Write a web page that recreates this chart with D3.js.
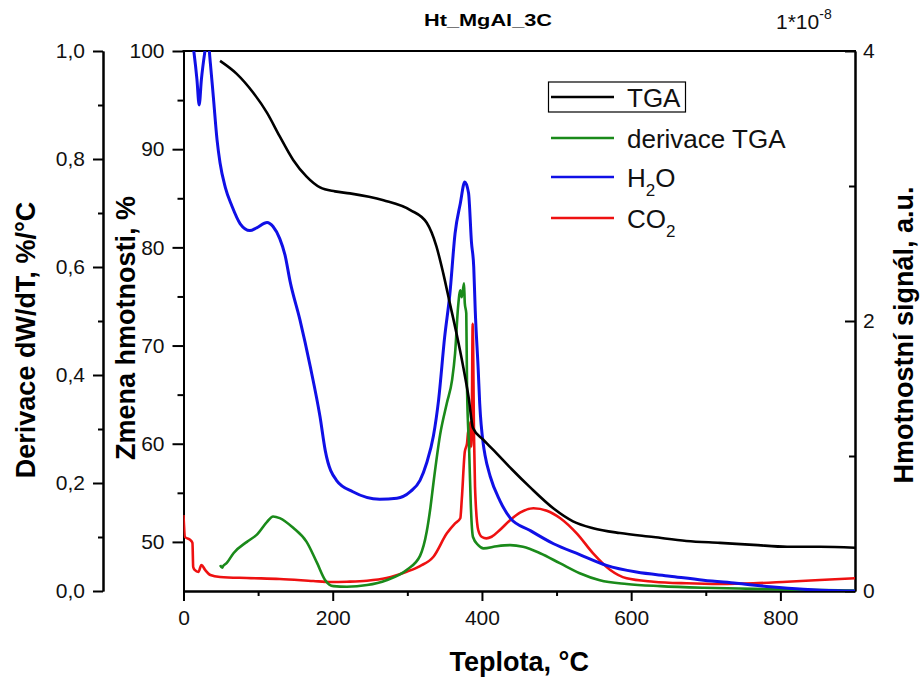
<!DOCTYPE html>
<html lang="en">
<head>
<meta charset="UTF-8">
<title>Ht_MgAl_3C</title>
<script src="https://d3js.org/d3.v7.min.js"></script>
<style>
  body { margin: 0; background: #fff; }
  svg text { font-family: "Liberation Sans", Arial, sans-serif; }
</style>
</head>
<body>
<script>
// TGA, % (left inner axis)
const tgaT = [49, 71, 94, 112, 129, 147, 165, 183, 203, 223, 268, 304, 326, 339, 348, 357, 366, 375, 382, 388, 402, 420, 440, 464, 496, 522, 549, 585, 630, 674, 719, 764, 809, 853, 900];
const tgaV = [99.0, 97.7, 95.7, 93.7, 91.3, 88.9, 87.2, 86.1, 85.7, 85.5, 84.8, 83.8, 82.5, 80.1, 77.4, 74.3, 71.2, 67.8, 64.8, 61.6, 60.4, 59.0, 57.4, 55.6, 53.4, 52.1, 51.4, 50.9, 50.5, 50.1, 49.9, 49.7, 49.5, 49.5, 49.4];

// derivace TGA, %/°C (left outer axis)
const derT = [49, 52, 53, 58, 67, 85, 98, 112, 120, 129, 147, 165, 179, 190, 201, 219, 246, 272, 299, 317, 326, 331, 335, 344, 353, 360, 364, 368, 371, 373, 376, 377, 379, 380, 383, 385, 388, 395, 402, 420, 438, 455, 478, 505, 531, 558, 594, 639, 697, 764, 831, 900];
const derV = [0.048, 0.043, 0.046, 0.052, 0.070, 0.091, 0.104, 0.128, 0.138, 0.135, 0.117, 0.091, 0.052, 0.020, 0.009, 0.008, 0.011, 0.020, 0.039, 0.065, 0.110, 0.155, 0.200, 0.290, 0.348, 0.391, 0.440, 0.526, 0.557, 0.544, 0.570, 0.533, 0.514, 0.378, 0.255, 0.162, 0.100, 0.085, 0.079, 0.083, 0.085, 0.082, 0.070, 0.051, 0.033, 0.020, 0.013, 0.009, 0.006, 0.004, 0.002, 0.001];

// H2O signal, 1e-8 (right axis)
const h2oT = [10, 18, 21, 24, 29, 32, 36, 40, 45, 49, 56, 65, 76, 89, 98, 112, 120, 129, 136, 143, 156, 170, 183, 190, 205, 227, 263, 286, 304, 317, 326, 335, 342, 350, 357, 364, 371, 377, 382, 386, 389, 391, 395, 397, 402, 404, 411, 424, 438, 464, 496, 531, 567, 607, 652, 697, 741, 786, 831, 876, 900];
const h2oV = [4.16, 3.79, 3.60, 3.79, 4.01, 4.12, 3.91, 3.66, 3.34, 3.17, 2.99, 2.85, 2.72, 2.67, 2.69, 2.73, 2.70, 2.61, 2.49, 2.29, 2.01, 1.66, 1.29, 1.04, 0.82, 0.735, 0.68, 0.687, 0.736, 0.82, 0.95, 1.15, 1.42, 1.88, 2.20, 2.65, 2.87, 3.03, 2.95, 2.58, 2.40, 2.08, 1.64, 1.39, 1.08, 1.01, 0.85, 0.67, 0.54, 0.45, 0.35, 0.27, 0.19, 0.14, 0.11, 0.08, 0.057, 0.032, 0.013, 0.002, 0];

// CO2 signal, 1e-8 (right axis)
const co2T = [0, 2, 9, 12, 13, 15, 20, 24, 29, 36, 49, 85, 129, 174, 196, 219, 246, 272, 299, 317, 335, 353, 364, 371, 373, 377, 380, 382, 383, 384.5, 385.5, 386.3, 387.6, 389.4, 390.7, 395, 400, 406, 413, 424, 438, 451, 469, 487, 505, 527, 549, 572, 594, 630, 674, 719, 764, 809, 853, 900];
const co2V = [0.563, 0.40, 0.378, 0.356, 0.178, 0.156, 0.141, 0.193, 0.156, 0.119, 0.104, 0.096, 0.089, 0.074, 0.067, 0.069, 0.076, 0.096, 0.143, 0.185, 0.254, 0.427, 0.501, 0.539, 0.68, 1.03, 1.094, 1.2, 1.05, 1.25, 1.07, 1.19, 1.98, 1.143, 0.773, 0.452, 0.40, 0.39, 0.402, 0.452, 0.526, 0.58, 0.613, 0.595, 0.539, 0.427, 0.279, 0.156, 0.094, 0.069, 0.057, 0.052, 0.057, 0.069, 0.081, 0.094];

const xTicks = [0, 200, 400, 600, 800];
const xMinor = [100, 300, 500, 700];
const tgaTicks = [50, 60, 70, 80, 90, 100];
const tgaMinor = [55, 65, 75, 85, 95];
const derTicks = [0, 0.2, 0.4, 0.6, 0.8, 1.0];
const derMinor = [0.1, 0.3, 0.5, 0.7, 0.9];
const sigTicks = [0, 2, 4];
const sigMinor = [1, 3];

const legendNames = ["TGA", "derivace TGA", "H2O", "CO2"];
const colors = { tga: "#000000", der: "#1a8a1a", h2o: "#1010e6", co2: "#ee1111" };

const width = 920, height = 677;
const svg = d3.select("body").append("svg")
  .attr("width", width)
  .attr("height", height);

const x = d3.scaleLinear().domain([0, 900]).range([183.5, 855]);
const yTga = d3.scaleLinear().domain([45, 100]).range([591, 51]);
const yDer = d3.scaleLinear().domain([0, 1]).range([591, 51]);
const ySig = d3.scaleLinear().domain([0, 4]).range([591, 51]);

const comma = d => d3.format(".1f")(d).replace(".", ",");

function styleAxis(g) {
  g.selectAll(".domain").attr("stroke", "#000").attr("stroke-width", 2);
  g.selectAll(".tick line").attr("stroke", "#000").attr("stroke-width", 2);
  g.selectAll("text")
    .attr("font-size", 21)
    .attr("fill", "#111")
    .attr("font-family", "'Liberation Sans', Arial, sans-serif");
}

// clip for the curves
svg.append("clipPath").attr("id", "plot")
  .append("rect")
  .attr("x", x(0)).attr("y", ySig(4))
  .attr("width", x(900) - x(0)).attr("height", ySig(0) - ySig(4));

// bottom axis
svg.append("g")
  .attr("transform", `translate(0, ${yTga(45)})`)
  .call(d3.axisBottom(x).tickValues(xTicks).tickSize(10).tickSizeOuter(0).tickPadding(9))
  .call(styleAxis);
svg.append("g")
  .attr("transform", `translate(0, ${yTga(45)})`)
  .call(d3.axisBottom(x).tickValues(xMinor).tickSize(5).tickSizeOuter(0).tickFormat(""))
  .call(styleAxis);

// top frame
svg.append("line")
  .attr("x1", x(0) - 1).attr("x2", x(900) + 1)
  .attr("y1", yTga(100)).attr("y2", yTga(100))
  .attr("stroke", "#000").attr("stroke-width", 2);

// inner left axis (TGA %)
svg.append("g")
  .attr("transform", `translate(${x(0)}, 0)`)
  .call(d3.axisLeft(yTga).tickValues(tgaTicks).tickSize(11).tickSizeOuter(0).tickPadding(8))
  .call(styleAxis);
svg.append("g")
  .attr("transform", `translate(${x(0)}, 0)`)
  .call(d3.axisLeft(yTga).tickValues(tgaMinor).tickSize(6).tickSizeOuter(0).tickFormat(""))
  .call(styleAxis);

// outer left axis (derivace)
svg.append("g")
  .attr("transform", "translate(103, 0)")
  .call(d3.axisLeft(yDer).tickValues(derTicks).tickSize(10).tickSizeOuter(0).tickPadding(8).tickFormat(comma))
  .call(styleAxis);
svg.append("g")
  .attr("transform", "translate(103, 0)")
  .call(d3.axisLeft(yDer).tickValues(derMinor).tickSize(5).tickSizeOuter(0).tickFormat(""))
  .call(styleAxis);

// right axis (MS signal), ticks inward
svg.append("g")
  .attr("transform", `translate(${x(900)}, 0)`)
  .call(d3.axisRight(ySig).tickValues(sigTicks).tickSize(-10).tickSizeOuter(0).tickPadding(8).tickFormat(d3.format("d")))
  .call(styleAxis);
svg.append("g")
  .attr("transform", `translate(${x(900)}, 0)`)
  .call(d3.axisRight(ySig).tickValues(sigMinor).tickSize(-6).tickSizeOuter(0).tickFormat(""))
  .call(styleAxis);

// curves
const curves = svg.append("g").attr("clip-path", "url(#plot)");

function drawLine(ts, vs, yScale, color, sw) {
  const pts = ts.map((t, i) => [t, vs[i]]);
  curves.append("path")
    .datum(pts)
    .attr("fill", "none")
    .attr("stroke", color)
    .attr("stroke-width", sw)
    .attr("stroke-linejoin", "round")
    .attr("d", d3.line().x(d => x(d[0])).y(d => yScale(d[1])).curve(d3.curveMonotoneX));
}

drawLine(co2T, co2V, ySig, colors.co2, 2.6);
drawLine(derT, derV, yDer, colors.der, 2.6);
drawLine(h2oT, h2oV, ySig, colors.h2o, 3);
drawLine(tgaT, tgaV, yTga, colors.tga, 2.6);

// legend
const legend = svg.append("g");
legend.append("rect")
  .attr("x", 548.5).attr("y", 82)
  .attr("width", 137).attr("height", 30)
  .attr("fill", "none").attr("stroke", "#000").attr("stroke-width", 1.2);

const legendRows = [
  { name: legendNames[0], color: colors.tga, ly: 97, ty: 107 },
  { name: legendNames[1], color: colors.der, ly: 138, ty: 148 },
  { name: legendNames[2], color: colors.h2o, ly: 177, ty: 187 },
  { name: legendNames[3], color: colors.co2, ly: 218, ty: 228 }
];
legendRows.forEach(r => {
  legend.append("line")
    .attr("x1", 551).attr("x2", 614)
    .attr("y1", r.ly).attr("y2", r.ly)
    .attr("stroke", r.color).attr("stroke-width", 2.6);
  const t = legend.append("text")
    .attr("x", 627).attr("y", r.ty)
    .attr("font-size", 26)
    .attr("fill", "#111");
  const m = r.name.match(/^([A-Z]+)(2)(.*)$/);
  if (m) {
    t.append("tspan").text(m[1]);
    t.append("tspan").attr("font-size", 17).attr("dy", 9).text("2");
    t.append("tspan").attr("dy", -9).text(m[3]);
  } else {
    t.text(r.name);
  }
});

// titles
svg.append("text")
  .attr("x", 488).attr("y", 26)
  .attr("text-anchor", "middle")
  .attr("font-size", 17).attr("font-weight", "bold")
  .attr("textLength", 128).attr("lengthAdjust", "spacingAndGlyphs")
  .text("Ht_MgAl_3C");

const mult = svg.append("text")
  .attr("x", 776).attr("y", 29)
  .attr("font-size", 21).attr("fill", "#111");
mult.append("tspan").text("1*10");
mult.append("tspan").attr("font-size", 14).attr("dy", -10).text("-8");

svg.append("text")
  .attr("x", (x(0) + x(900)) / 2).attr("y", 671)
  .attr("text-anchor", "middle")
  .attr("font-size", 27).attr("font-weight", "bold")
  .text("Teplota, °C");

svg.append("text")
  .attr("transform", "translate(35, 340) rotate(-90)")
  .attr("text-anchor", "middle")
  .attr("font-size", 27).attr("font-weight", "bold")
  .text("Derivace dW/dT, %/°C");

svg.append("text")
  .attr("transform", "translate(135, 328) rotate(-90)")
  .attr("text-anchor", "middle")
  .attr("font-size", 27).attr("font-weight", "bold")
  .text("Zmena hmotnosti, %");

svg.append("text")
  .attr("transform", "translate(913, 335) rotate(-90)")
  .attr("text-anchor", "middle")
  .attr("font-size", 27).attr("font-weight", "bold")
  .text("Hmotnostní signál, a.u.");
</script>
</body>
</html>
